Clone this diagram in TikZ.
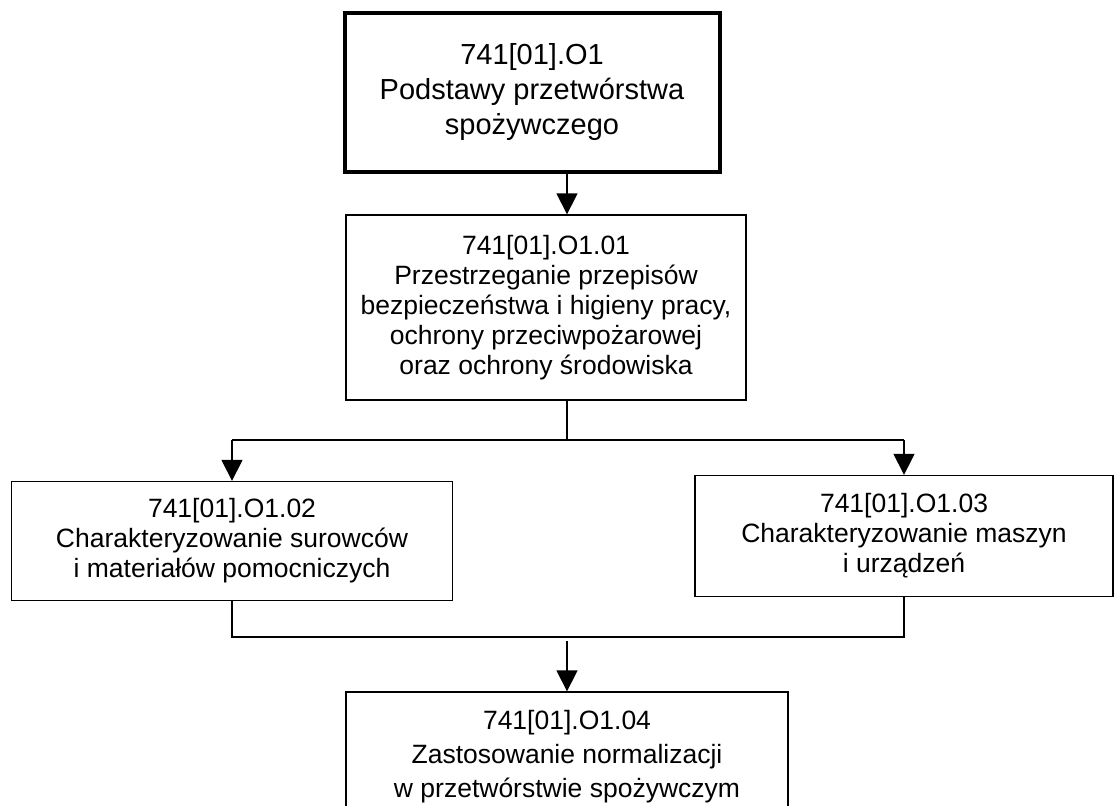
\documentclass[tikz,border=0pt]{standalone}
\usepackage{fontspec}
\setmainfont{Liberation Sans}
\usetikzlibrary{arrows.meta}

\tikzset{
  box/.style={draw, line width=1.3pt, align=center, inner sep=0pt,
    font=\fontsize{26.5}{30}\selectfont},
  mainbox/.style={box, line width=4pt, font=\fontsize{29}{35}\selectfont},
  arr/.style={line width=1.3pt, -{Triangle[width=21pt,length=21pt]}},
  link/.style={line width=1.3pt}
}

\begin{document}
\begin{tikzpicture}[x=1pt,y=-1pt]
\useasboundingbox (0,0) rectangle (1115,805);
% modules
\node[mainbox, minimum width=375pt, minimum height=159pt] (top) at (532,92.5)
    {741[01].O1\\Podstawy przetwórstwa\\spożywczego};
\node[box, minimum width=400pt, minimum height=185pt] (b01) at (546,307.5)
    {741[01].O1.01\\Przestrzeganie przepisów\\bezpieczeństwa i higieny pracy,\\ochrony przeciwpożarowej\\oraz ochrony środowiska};
\node[box, minimum width=441pt, minimum height=119pt] (b02) at (232,541)
    {741[01].O1.02\\Charakteryzowanie surowców\\i materiałów pomocniczych};
\node[box, minimum width=418pt, minimum height=121pt] (b03) at (904,536)
    {741[01].O1.03\\Charakteryzowanie maszyn\\i urządzeń};
\node[box, minimum width=442pt, minimum height=130pt, font=\fontsize{26.5}{34}\selectfont] (b04) at (567,757)
    {741[01].O1.04\\Zastosowanie normalizacji\\w przetwórstwie spożywczym};
% connectors
\coordinate (spine) at (567,0);
\coordinate (split) at (567,440);
\coordinate (merge) at (567,637);
\draw[arr] (top.south -| spine) -- (b01.north -| spine);
\draw[link] (b01.south -| split) -- (split);
\draw[link] (b02.north |- split) -- (b03.north |- split);
\draw[arr] (b02.north |- split) -- (b02.north);
\draw[arr] (b03.north |- split) -- (b03.north);
\draw[link] (b02.south) -- (b02.south |- merge) -- (b03.south |- merge) -- (b03.south);
\draw[arr] ([yshift=-4pt]merge) -- (b04.north);
\end{tikzpicture}
\end{document}
